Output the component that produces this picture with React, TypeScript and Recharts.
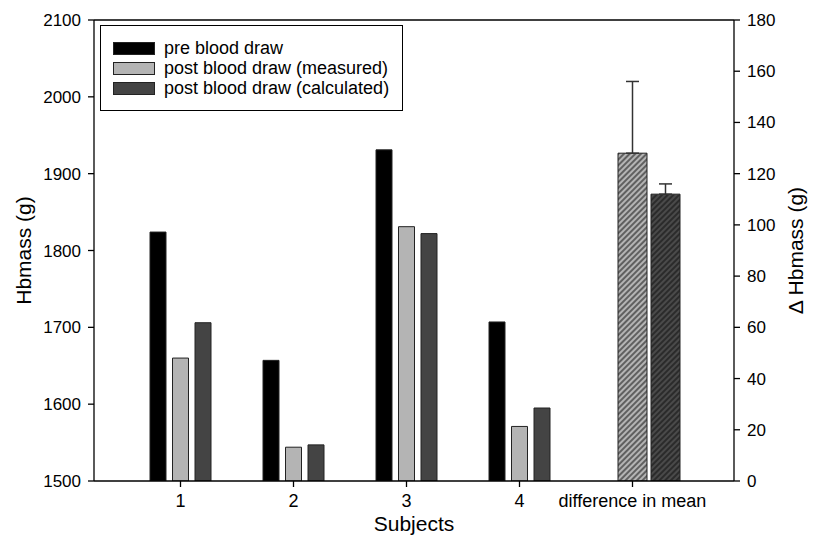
import React from "react";
import {
  ComposedChart,
  Bar,
  XAxis,
  YAxis,
  ErrorBar,
  Legend,
  ReferenceLine,
} from "recharts";

const categories = ["1", "2", "3", "4", "difference in mean"];
const seriesNames = ["pre blood draw", "post blood draw (measured)", "post blood draw (calculated)"];
const preBloodDraw = [1824, 1657, 1931, 1707, null];
const postMeasured = [1660, 1544, 1831, 1571, null];
const postCalculated = [1706, 1547, 1822, 1595, null];
const diffMeasured = [null, null, null, null, 128];
const diffCalculated = [null, null, null, null, 112];
const diffMeasuredErr = [null, null, null, null, 28];
const diffCalculatedErr = [null, null, null, null, 4];
const hbTicks = [1500, 1600, 1700, 1800, 1900, 2000, 2100];
const deltaTicks = [0, 20, 40, 60, 80, 100, 120, 140, 160, 180];

const data = categories.map((name, i) => ({
  name,
  pre: preBloodDraw[i],
  postMeasured: postMeasured[i],
  postCalculated: postCalculated[i],
  diffMeasured: diffMeasured[i],
  diffCalculated: diffCalculated[i],
  diffMeasuredErr: diffMeasuredErr[i] == null ? null : [0, diffMeasuredErr[i]],
  diffCalculatedErr: diffCalculatedErr[i] == null ? null : [0, diffCalculatedErr[i]],
}));

const FONT = '"Liberation Sans", Arial, sans-serif';
const tickStyle = { fontSize: 17, fill: "#000", fontFamily: FONT };
const axisStroke = { stroke: "#000", strokeWidth: 1.3 };

function LegendBox({ payload }: any) {
  const items = (payload || [])
    .filter((p: any) => seriesNames.includes(p.value))
    .sort((a: any, b: any) => seriesNames.indexOf(a.value) - seriesNames.indexOf(b.value));
  return (
    <div
      style={{
        width: 303,
        height: 86,
        boxSizing: "border-box",
        border: "1.3px solid #000",
        background: "#fff",
        padding: "12px 0 0 12px",
        fontFamily: FONT,
        fontSize: 18,
        color: "#000",
      }}
    >
      {items.map((p: any) => (
        <div key={p.value} style={{ display: "flex", alignItems: "center", height: 20 }}>
          <span
            style={{
              display: "inline-block",
              width: 42,
              height: 13,
              boxSizing: "border-box",
              background: p.color,
              border: "1px solid #222",
              marginRight: 9,
            }}
          />
          <span style={{ lineHeight: "20px", whiteSpace: "nowrap" }}>{p.value}</span>
        </div>
      ))}
    </div>
  );
}

export default function App() {
  return (
    <div style={{ position: "absolute", left: 0, top: 0, background: "#fff" }}>
      <ComposedChart
        width={819}
        height={536}
        data={data}
        margin={{ top: 20, right: 0, bottom: 0, left: 0 }}
        barGap={6.5}
        style={{ fontFamily: FONT }}
      >
        <defs>
          <pattern id="hatchLight" patternUnits="userSpaceOnUse" width="4" height="4" patternTransform="rotate(45)">
            <rect width="4" height="4" fill="#b4b4b4" />
            <line x1="2" y1="0" x2="2" y2="4" stroke="#1a1a1a" strokeWidth="1.1" />
          </pattern>
          <pattern id="hatchDark" patternUnits="userSpaceOnUse" width="4" height="4" patternTransform="rotate(45)">
            <rect width="4" height="4" fill="#4a4a4a" />
            <line x1="2" y1="0" x2="2" y2="4" stroke="#111" strokeWidth="1.1" />
          </pattern>
        </defs>
        <XAxis
          xAxisId="main"
          dataKey="name"
          height={55}
          padding={{ left: 30, right: 45 }}
          tick={{ ...tickStyle, fontSize: 18 }}
          tickSize={6}
          tickMargin={7}
          axisLine={axisStroke}
          tickLine={axisStroke}
          interval={0}
          label={{
            value: "Subjects",
            position: "insideBottom",
            offset: 5,
            style: { fontSize: 21, fill: "#000", fontFamily: FONT },
          }}
        />
        <XAxis xAxisId="diffA" dataKey="name" hide height={0} padding={{ left: 30, right: 45 }} />
        <XAxis xAxisId="diffB" dataKey="name" hide height={0} padding={{ left: 63, right: 12 }} />
        <YAxis
          yAxisId="left"
          width={94}
          domain={[1500, 2100]}
          ticks={hbTicks}
          allowDataOverflow
          tick={tickStyle}
          tickSize={6}
          tickMargin={7}
          axisLine={axisStroke}
          tickLine={axisStroke}
          label={{
            value: "Hbmass (g)",
            angle: -90,
            position: "insideLeft",
            offset: 24,
            style: { fontSize: 21, fill: "#000", fontFamily: FONT, textAnchor: "middle" },
          }}
        />
        <YAxis
          yAxisId="right"
          orientation="right"
          width={85}
          domain={[0, 180]}
          ticks={deltaTicks}
          allowDataOverflow
          tick={tickStyle}
          tickSize={6}
          tickMargin={7}
          axisLine={axisStroke}
          tickLine={axisStroke}
          label={{
            value: "Δ Hbmass (g)",
            angle: -90,
            position: "insideRight",
            offset: 23,
            style: { fontSize: 21, fill: "#000", fontFamily: FONT, textAnchor: "middle" },
          }}
        />
        <ReferenceLine yAxisId="left" xAxisId="main" y={2100} stroke="#000" strokeWidth={1.3} />
        <Legend
          layout="horizontal"
          verticalAlign="middle"
          align="center"
          wrapperStyle={{ top: 25, left: 100, width: 303, height: 86 }}
          content={<LegendBox />}
        />
        <Bar
          xAxisId="main"
          yAxisId="left"
          dataKey="pre"
          name={seriesNames[0]}
          fill="#000"
          stroke="#222"
          strokeWidth={1}
          barSize={16}
          isAnimationActive={false}
        />
        <Bar
          xAxisId="main"
          yAxisId="left"
          dataKey="postMeasured"
          name={seriesNames[1]}
          fill="#b4b4b4"
          stroke="#222"
          strokeWidth={1}
          barSize={16}
          isAnimationActive={false}
        />
        <Bar
          xAxisId="main"
          yAxisId="left"
          dataKey="postCalculated"
          name={seriesNames[2]}
          fill="#444"
          stroke="#222"
          strokeWidth={1}
          barSize={16}
          isAnimationActive={false}
        />
        <Bar
          xAxisId="diffA"
          yAxisId="right"
          dataKey="diffMeasured"
          legendType="none"
          fill="url(#hatchLight)"
          stroke="#222"
          strokeWidth={1}
          barSize={29}
          isAnimationActive={false}
        >
          <ErrorBar dataKey="diffMeasuredErr" width={6.5} stroke="#333" strokeWidth={1.5} direction="y" />
        </Bar>
        <Bar
          xAxisId="diffB"
          yAxisId="right"
          dataKey="diffCalculated"
          legendType="none"
          fill="url(#hatchDark)"
          stroke="#222"
          strokeWidth={1}
          barSize={29}
          isAnimationActive={false}
        >
          <ErrorBar dataKey="diffCalculatedErr" width={6.5} stroke="#333" strokeWidth={1.5} direction="y" />
        </Bar>
      </ComposedChart>
    </div>
  );
}
